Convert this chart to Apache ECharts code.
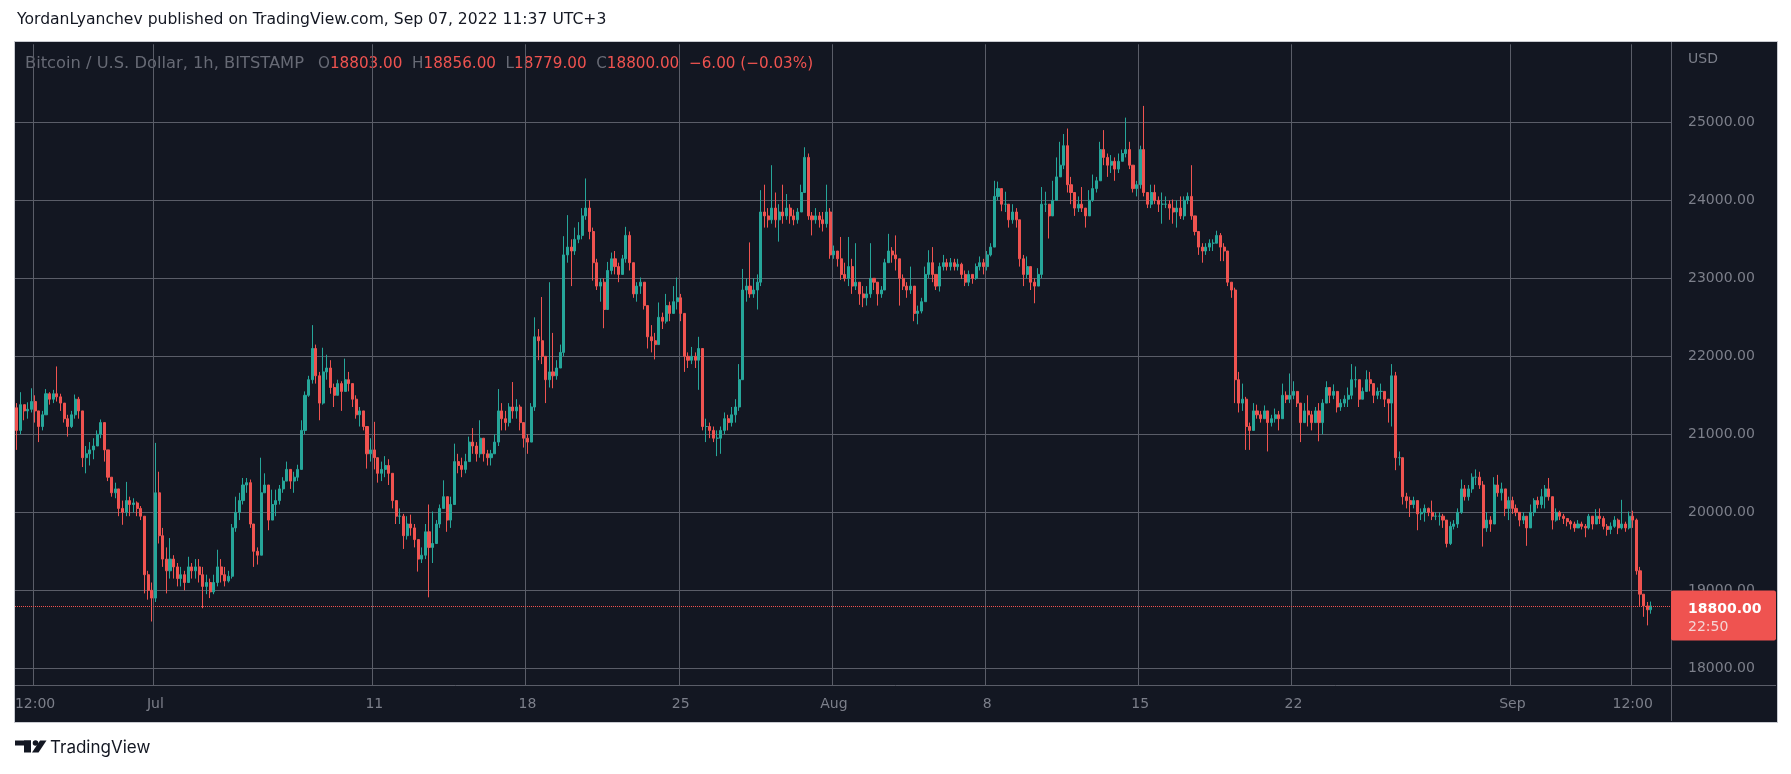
<!DOCTYPE html>
<html>
<head>
<meta charset="utf-8">
<script src="https://cdn.jsdelivr.net/npm/echarts@6/dist/echarts.min.js"></script>
<style>
  html, body { margin: 0; padding: 0; background: #ffffff; }
  #wrap { position: relative; width: 1791px; height: 774px; background: #ffffff; }
  #panel {
    position: absolute; left: 14px; top: 41px; width: 1762px; height: 680px;
    background: #131722; border: 1px solid #c8cad0;
  }
  #chart { position: absolute; left: 0; top: 0; width: 1791px; height: 774px; }
</style>
</head>
<body>
<div id="wrap">
  <div id="panel"></div>
  <div id="chart"></div>
</div>
<script>
const startTime = Date.UTC(2022, 5, 24, 16); // first candle: 24 Jun 16:00
const firstOpen = 21340;
const padCandles = 5; // empty room right of the last candle

const closes = [
  21050, 21380,                              // Jun 24 (16, 20)
  21300, 21320, 21420, 21300, 21100, 21250,  // Jun 25
  21520, 21450, 21520, 21480, 21400, 21200,  // Jun 26
  21100, 21250, 21450, 21300, 20700, 20750,  // Jun 27
  20800, 20850, 21000, 21150, 20800, 20450,  // Jun 28
  20250, 20300, 20050, 20000, 20150, 20100,  // Jun 29
  20120, 20050, 19950, 19200, 19000, 18900,  // Jun 30
  20250, 19700, 19400, 19250, 19400, 19300,  // Jul 1
  19150, 19200, 19100, 19300, 19250, 19300,  // Jul 2
  19200, 19050, 19100, 18980, 19100, 19300,  // Jul 3
  19200, 19120, 19180, 19800, 20000, 20150,  // Jul 4
  20350, 20380, 19850, 19500, 19450, 20250,  // Jul 5
  20350, 19900, 20100, 20150, 20300, 20400,  // Jul 6
  20550, 20400, 20450, 20550, 21050, 21500,  // Jul 7
  21700, 22100, 21750, 21400, 21800, 21850,  // Jul 8
  21600, 21500, 21650, 21550, 21700, 21650,  // Jul 9
  21450, 21250, 21300, 21100, 20750, 20800,  // Jul 10
  20700, 20500, 20550, 20600, 20500, 20150,  // Jul 11
  19950, 19950, 19700, 19850, 19800, 19650,  // Jul 12
  19400, 19450, 19750, 19550, 19600, 19850,  // Jul 13
  20050, 20200, 19900, 20100, 20650, 20600,  // Jul 14
  20550, 20650, 20900, 20850, 20750, 20950,  // Jul 15
  20750, 20700, 20750, 20900, 21300, 21200,  // Jul 16
  21150, 21350, 21300, 21350, 21150, 20950,  // Jul 17
  20900, 21350, 22250, 22200, 22000, 21700,  // Jul 18
  21800, 21750, 21850, 22050, 23300, 23400,  // Jul 19
  23350, 23500, 23550, 23800, 23900, 23600,  // Jul 20
  23200, 22900, 22950, 22600, 23100, 23250,  // Jul 21
  23150, 23050, 23250, 23550, 23200, 22800,  // Jul 22
  22900, 22950, 22650, 22250, 22200, 22150,  // Jul 23
  22500, 22450, 22650, 22550, 22700, 22750,  // Jul 24
  22550, 22000, 21950, 22000, 21950, 22100,  // Jul 25
  21100, 21100, 21050, 20950, 20950, 21050,  // Jul 26
  21200, 21150, 21250, 21350, 21700, 22850,  // Jul 27
  22900, 22800, 22850, 22950, 23850, 23800,  // Jul 28
  23750, 23900, 23750, 23850, 23800, 23900,  // Jul 29
  23800, 23750, 23850, 24100, 24550, 23800,  // Jul 30
  23750, 23800, 23750, 23700, 23850, 23300,  // Jul 31
  23350, 23250, 23050, 23000, 23150, 22900,  // Aug 1
  22950, 22800, 22750, 22800, 23000, 22950,  // Aug 2
  22800, 22850, 23200, 23350, 23300, 23250,  // Aug 3
  23000, 22900, 22850, 22900, 22550, 22580,  // Aug 4
  22700, 23050, 23200, 23050, 22900, 23150,  // Aug 5
  23200, 23150, 23200, 23150, 23180, 23050,  // Aug 6
  22950, 23050, 23000, 23150, 23200, 23150,  // Aug 7
  23300, 23400, 24050, 24150, 23950, 23950,  // Aug 8
  23750, 23850, 23750, 23250, 23050, 23150,  // Aug 9
  22950, 22900, 23050, 23950, 23950, 23800,  // Aug 10
  24000, 24300, 24450, 24700, 24200, 24100,  // Aug 11
  23900, 23950, 23900, 23800, 24000, 24150,  // Aug 12
  24250, 24650, 24550, 24450, 24500, 24400,  // Aug 13
  24500, 24600, 24650, 24450, 24150, 24200,  // Aug 14
  24650, 24100, 23950, 24100, 24000, 23950,  // Aug 15
  23950, 23950, 23900, 23850, 23900, 23800,  // Aug 16
  24000, 24050, 23800, 23600, 23400, 23350,  // Aug 17
  23400, 23450, 23450, 23550, 23400, 23350,  // Aug 18
  22950, 22850, 21700, 21400, 21450, 21100,  // Aug 19
  21050, 21300, 21250, 21200, 21300, 21150,  // Aug 20
  21200, 21250, 21200, 21500, 21450, 21500,  // Aug 21
  21550, 21400, 21150, 21300, 21250, 21150,  // Aug 22
  21300, 21150, 21400, 21600, 21500, 21550,  // Aug 23
  21350, 21400, 21450, 21500, 21700, 21700,  // Aug 24
  21450, 21550, 21700, 21650, 21500, 21550,  // Aug 25
  21550, 21450, 21400, 21750, 20700, 20700,  // Aug 26
  20200, 20150, 20100, 20150, 19980, 20000,  // Aug 27
  20050, 20000, 19950, 19950, 19950, 19900,  // Aug 28
  19600, 19820, 19850, 20000, 20300, 20200,  // Aug 29
  20300, 20450, 20450, 20350, 19800, 19900,  // Aug 30
  19850, 20350, 20250, 20300, 20050, 20150,  // Aug 31
  20050, 20000, 19900, 19950, 19800, 20000,  // Sep 1
  20150, 20100, 20200, 20300, 20200, 19900,  // Sep 2
  20000, 19950, 19920, 19880, 19850, 19800,  // Sep 3
  19850, 19820, 19800, 19950, 19850, 19950,  // Sep 4
  19920, 19820, 19780, 19820, 19900, 19800,  // Sep 5
  19850, 19800, 19950, 19900, 19250, 18950,  // Sep 6
  18800, 18750, 18800                        // Sep 7 (00, 04, 08)
];

const highs = [
  21400, 21540,
  21380, 21410, 21590, 21500, 21300, 21300,
  21580, 21540, 21570, 21870, 21520, 21400,
  21250, 21300, 21510, 21480, 21300, 20850,
  20900, 20950, 21050, 21190, 21150, 20800,
  20450, 20380, 20300, 20150, 20390, 20200,
  20180, 20140, 20080, 19950, 19250, 19100,
  20890, 20520, 19800, 19550, 19670, 19450,
  19350, 19300, 19250, 19430, 19350, 19400,
  19400, 19300, 19200, 19150, 19200, 19520,
  19400, 19300, 19250, 19850, 20200, 20250,
  20440, 20440, 20420, 19850, 19550, 20700,
  20500, 20350, 20290, 20290, 20350, 20450,
  20650, 20550, 20520, 20610, 21180, 21550,
  21750, 22400, 22150, 21800, 22110, 22020,
  21950, 21650, 21700, 21680, 21970, 21800,
  21650, 21500, 21350, 21300, 21100, 20950,
  21160, 20700, 20650, 20720, 20680, 20500,
  20150, 20050, 19980, 19950, 19970, 19850,
  19650, 19550, 19850, 20100, 20010, 19900,
  20100, 20410, 20200, 20200, 20880, 20750,
  20700, 20750, 20970, 21080, 20900, 21180,
  20950, 20800, 20800, 21000, 21580, 21400,
  21300, 21400, 21670, 21450, 21380, 21150,
  21000, 21400, 22500, 22350, 22760, 22000,
  22950, 22300, 21950, 22150, 23540, 23810,
  23500, 23650, 23720, 23900, 24280, 24000,
  23650, 23250, 23000, 23000, 23210, 23330,
  23350, 23200, 23300, 23660, 23600, 23200,
  22950, 23010, 22950, 22650, 22400, 22300,
  22690, 22560, 22800, 22700, 22900, 23010,
  22800, 22550, 22050, 22120, 22050, 22250,
  22100, 21200, 21150, 21100, 21050, 21100,
  21280, 21250, 21350, 21450, 21900, 23120,
  23000, 23460, 23000, 23050, 24130, 24200,
  23900, 24450, 24100, 23950, 24200, 24080,
  23950, 23880, 23900, 24200, 24680, 24600,
  23850, 23900, 23850, 23850, 24200, 23900,
  23420, 23350, 23530, 23200, 23530, 23250,
  23450, 22950, 22900, 22900, 23450, 23000,
  22950, 22900, 23250, 23570, 23400, 23550,
  23250, 23050, 22950, 23150, 22900, 22650,
  22750, 23150, 23360, 23400, 23050, 23200,
  23300, 23250, 23260, 23250, 23250, 23200,
  23100, 23100, 23050, 23190, 23280, 23250,
  23350, 23450, 24250, 24240, 24150, 24110,
  23950, 23950, 23900, 23750, 23300, 23280,
  23150, 23000, 23130, 24170, 24110, 23950,
  24250, 24550, 24750, 24850, 24920, 24300,
  24100, 24050, 24170, 23900, 24130, 24330,
  24300, 24750, 24900, 24600, 24580, 24550,
  24600, 24650, 25060, 24750, 24450, 24250,
  24700, 25210, 24100, 24200, 24200, 24050,
  24100, 24050, 24000, 24010, 24000, 24050,
  24050, 24100, 24450, 23800, 23600, 23450,
  23450, 23500, 23500, 23610, 23580, 23450,
  23350, 22950, 22880, 21800, 21650, 21480,
  21150, 21400, 21380, 21300, 21370, 21300,
  21250, 21330, 21300, 21650, 21550, 21780,
  21680, 21550, 21400, 21400, 21500, 21300,
  21350, 21400, 21450, 21680, 21600, 21640,
  21550, 21450, 21500, 21600, 21900, 21870,
  21700, 21600, 21820, 21800, 21650, 21600,
  21650, 21550, 21450, 21900, 21800, 20780,
  20700, 20250, 20200, 20200, 20150, 20050,
  20100, 20060, 20150, 20000, 20000, 19980,
  19900, 19880, 19900, 20050, 20420, 20350,
  20350, 20500, 20550, 20520, 20400, 20000,
  19950, 20450, 20480, 20380, 20300, 20200,
  20200, 20100, 20000, 20000, 19950, 20100,
  20180, 20200, 20300, 20350, 20440, 20200,
  20050, 20020, 19980, 19920, 19900, 19880,
  19900, 19880, 19850, 19980, 19950, 20040,
  20050, 19950, 19850, 19870, 19950, 19920,
  20160, 19880, 20010, 20020, 19920, 19300,
  18950, 18850, 18856
];

const lows = [
  20800, 21000,
  21180, 21200, 21280, 21150, 20900, 21050,
  21250, 21380, 21400, 21420, 21300, 21150,
  20970, 21080, 21200, 21200, 20580, 20500,
  20600, 20680, 20850, 20950, 20650, 20400,
  20200, 20180, 19950, 19840, 19950, 19950,
  20000, 19950, 19900, 18960, 18880, 18600,
  18850, 19600, 19300, 18960, 19150, 19150,
  19050, 19050, 19000, 19100, 19150, 19150,
  19100, 18770, 18950, 18900, 18950, 19050,
  19100, 19050, 19100, 19150, 19750, 19900,
  20100, 20250, 19800, 19300, 19330, 19450,
  20250, 19770, 19900, 19950, 20100, 20250,
  20400, 20300, 20250, 20400, 20550, 21000,
  21480, 21650, 21650, 21180, 21380, 21700,
  21520, 21350, 21500, 21300, 21550, 21550,
  21350, 21200, 21100, 21050, 20560, 20650,
  20550, 20380, 20400, 20450, 20350, 20050,
  19850, 19850, 19530, 19650, 19700, 19550,
  19240, 19350, 19400, 18910, 19350, 19600,
  19800, 20050, 19750, 19800, 20100, 20500,
  20450, 20500, 20650, 20750, 20650, 20700,
  20650, 20600, 20600, 20750, 20850, 21050,
  21050, 21100, 21200, 21200, 21050, 20830,
  20750, 20900, 21300, 21950, 21900, 21400,
  21600, 21590, 21700, 21850, 22000, 23200,
  22900, 23300, 23450, 23500, 23750, 23500,
  22970, 22850, 22700, 22360, 22600, 23050,
  23050, 22950, 23050, 23200, 23100, 22750,
  22700, 22800, 22600, 22100, 22050, 21960,
  22150, 22350, 22420, 22450, 22550, 22600,
  22450, 21800, 21850, 21900, 21850, 21570,
  21050, 20900, 20950, 20900, 20720, 20750,
  21000, 21050, 21100, 21150, 21300, 21700,
  22700, 22750, 22750, 22600, 22900, 23650,
  23650, 23700, 23650, 23470, 23700, 23750,
  23700, 23680, 23700, 23850, 24100, 23750,
  23550, 23700, 23650, 23600, 23650, 23250,
  23250, 23150, 22980, 22960, 22900, 22800,
  22850, 22660, 22630, 22650, 22750, 22850,
  22650, 22750, 22850, 23200, 23200, 23100,
  22650, 22850, 22750, 22800, 22450, 22410,
  22550, 22700, 23000, 22950, 22850, 22830,
  23100, 23100, 23100, 23100, 23100, 22990,
  22900, 22900, 22930, 22980, 23100, 23050,
  23100, 23280, 23400, 24000, 23860, 23850,
  23650, 23700, 23650, 23150, 22900, 23000,
  22850, 22680, 22900, 23000, 23850, 23510,
  23800, 24000, 24300, 24400, 24100, 23950,
  23800, 23850, 23850, 23650, 23800, 23980,
  24100, 24250, 24450, 24300, 24350, 24250,
  24350, 24500, 24550, 24400, 24100, 24050,
  24150, 24050, 23900, 23900, 23950, 23850,
  23700, 23900, 23750, 23700, 23650, 23760,
  23750, 23950, 23750, 23550, 23300, 23200,
  23300, 23350, 23350, 23450, 23220, 23220,
  22900, 22750, 21400, 21280, 21300, 20800,
  20800, 21050, 21200, 21150, 21200, 20780,
  21100, 21150, 21050, 21200, 21400, 21400,
  21450, 21350, 20900, 21150, 21100, 21050,
  21150, 20910, 21000, 21400, 21400, 21450,
  21280, 21300, 21350, 21350, 21450, 21600,
  21350, 21450, 21550, 21550, 21400, 21450,
  21450, 21350, 21150, 21100, 20540, 20600,
  20100, 20050, 19940, 20050, 19770, 19900,
  19880, 19950, 19900, 19900, 19830, 19800,
  19550, 19580, 19780, 19800, 19980, 20150,
  20150, 20250, 20350, 20300, 19560, 19750,
  19750, 19850, 20200, 20150, 19950, 19900,
  19980, 19950, 19820, 19850, 19570, 19800,
  19950, 20050, 20050, 20050, 20150, 19780,
  19880, 19900, 19850, 19820, 19780, 19750,
  19800, 19780, 19680, 19780, 19780, 19850,
  19850, 19780, 19700, 19720, 19800, 19720,
  19780, 19750, 19780, 19800, 19200, 18800,
  18660, 18550, 18700
];

// time scale labels: category key -> text
const tickKeys = ['06-25 12', '07-01 00', '07-11 00', '07-18 00', '07-25 00', '08-01 00',
  '08-08 00', '08-15 00', '08-22 00', '09-01 00', '09-06 12'];
const tickLabels = ['12:00', 'Jul', '11', '18', '25', 'Aug', '8', '15', '22', 'Sep', '12:00'];

// price scale
const priceMin = 18000;
const priceMax = 26000;
const priceStep = 1000;

// last bar legend / price tag
const lastBar = { o: '18803.00', h: '18856.00', l: '18779.00', c: '18800.00', chg: '−6.00 (−0.03%)' };
const lastClose = 18800;
const countdown = '22:50';

const upColor = '#26a69a';
const downColor = '#ef5350';
const gridColor = '#5a5d68';
const scaleText = '#7c7f8a';
const legendGrey = '#676a75';
const uiFont = '"DejaVu Sans", sans-serif';

function pad(n) {
  return n < 10 ? '0' + n : '' + n;
}

let categories = [];
for (let i = 0; i < closes.length + padCandles; i++) {
  const d = new Date(startTime + i * 4 * 3600 * 1000);
  categories.push(pad(d.getUTCMonth() + 1) + '-' + pad(d.getUTCDate()) + ' ' + pad(d.getUTCHours()));
}

let candles = [];
let open = firstOpen;
closes.forEach((c, i) => {
  candles.push([open, c, lows[i], highs[i]]);
  open = c;
});

const isTick = (idx, val) => tickKeys.indexOf(val) >= 0;

let chart = echarts.init(document.getElementById('chart'), null, { renderer: 'canvas' });

let graphics = [
  {
    type: 'line',
    shape: { x1: 1671.5, y1: 42, x2: 1671.5, y2: 721 },
    style: { stroke: gridColor, lineWidth: 1 }
  },
  {
    type: 'line',
    shape: { x1: 15, y1: 685.5, x2: 1776, y2: 685.5 },
    style: { stroke: gridColor, lineWidth: 1 }
  },
  {
    type: 'text',
    x: 17,
    y: 20,
    style: {
      text: 'YordanLyanchev published on TradingView.com, Sep 07, 2022 11:37 UTC+3',
      fill: '#131722',
      font: '15.6px ' + uiFont,
      verticalAlign: 'middle'
    }
  },
  {
    type: 'text',
    x: 25,
    y: 64,
    style: {
      text: 'Bitcoin / U.S. Dollar, 1h, BITSTAMP',
      fill: legendGrey,
      font: '16.3px ' + uiFont,
      verticalAlign: 'middle'
    }
  },
  {
    type: 'text',
    x: 318,
    y: 64,
    style: {
      text: '{g|O}{r|' + lastBar.o + '}  {g|H}{r|' + lastBar.h + '}  {g|L}{r|' + lastBar.l +
        '}  {g|C}{r|' + lastBar.c + '}  {r|' + lastBar.chg + '}',
      font: '15.2px ' + uiFont,
      fill: legendGrey,
      verticalAlign: 'middle',
      rich: {
        g: { fill: legendGrey, font: '15.2px ' + uiFont },
        r: { fill: downColor, font: '15.2px ' + uiFont }
      }
    }
  },
  {
    type: 'text',
    x: 1688,
    y: 59,
    style: { text: 'USD', fill: scaleText, font: '14px ' + uiFont, verticalAlign: 'middle' }
  },
  // TradingView logo
  { type: 'rect', shape: { x: 15, y: 740.5, width: 16, height: 5 }, style: { fill: '#131722' } },
  { type: 'rect', shape: { x: 24, y: 740.5, width: 7, height: 12 }, style: { fill: '#131722' } },
  { type: 'circle', shape: { cx: 35.5, cy: 743, r: 2.8 }, style: { fill: '#131722' } },
  { type: 'polygon', shape: { points: [[40, 740.5], [46.5, 740.5], [38.5, 752.5], [32, 752.5]] }, style: { fill: '#131722' } },
  {
    type: 'text', x: 50, y: 748,
    style: { text: 'TradingView', fill: '#131722', font: '17px Inter, sans-serif', verticalAlign: 'middle' }
  }
];

let option = {
  backgroundColor: 'transparent',
  animation: false,
  grid: [
    { left: 15, right: 120, top: 44.3, bottom: 105.7 },
    { left: 15, right: 120, top: 668.3, bottom: 89 }
  ],
  xAxis: [
    {
      type: 'category',
      gridIndex: 0,
      data: categories,
      axisLine: { show: false },
      axisTick: { show: false },
      axisLabel: { show: false },
      splitLine: {
        show: true,
        interval: isTick,
        lineStyle: { color: gridColor, width: 1 }
      }
    },
    {
      type: 'category',
      gridIndex: 1,
      data: categories,
      axisLine: { show: false },
      axisTick: { show: false },
      axisLabel: {
        interval: isTick,
        formatter: v => tickLabels[tickKeys.indexOf(v)],
        color: scaleText,
        fontFamily: uiFont,
        fontSize: 14,
        margin: 12
      },
      splitLine: {
        show: true,
        interval: isTick,
        lineStyle: { color: gridColor, width: 1 }
      }
    }
  ],
  yAxis: [
    {
      type: 'value',
      gridIndex: 0,
      position: 'right',
      min: priceMin,
      max: priceMax,
      interval: priceStep,
      axisLine: { show: false },
      axisTick: { show: false },
      axisLabel: {
        color: scaleText,
        fontFamily: uiFont,
        fontSize: 14,
        margin: 17,
        showMaxLabel: false,
        formatter: v => v.toFixed(2)
      },
      splitLine: {
        show: true,
        showMaxLine: false,
        lineStyle: { color: gridColor, width: 1 }
      }
    },
    { type: 'value', gridIndex: 1, show: false }
  ],
  series: [
    {
      name: 'BTCUSD',
      type: 'candlestick',
      xAxisIndex: 0,
      yAxisIndex: 0,
      data: candles,
      barWidth: '70%',
      itemStyle: {
        color: upColor,
        color0: downColor,
        borderColor: upColor,
        borderColor0: downColor,
        borderWidth: 1
      },
      markLine: {
        silent: true,
        symbol: 'none',
        label: { show: false },
        lineStyle: { color: downColor, type: 'dotted', width: 1 },
        data: [{ yAxis: lastClose }]
      }
    }
  ],
  graphic: graphics
};

chart.setOption(option);

// price tag on the scale, anchored to the last close
const py = chart.convertToPixel({ yAxisIndex: 0 }, lastClose);
graphics.push(
  {
    type: 'rect', z: 100,
    shape: { x: 1671, y: py - 15.3, width: 105, height: 50, r: 2 },
    style: { fill: downColor }
  },
  {
    type: 'text', z: 101, x: 1688, y: py + 3,
    style: { text: lastClose.toFixed(2), fill: '#ffffff', font: 'bold 14px ' + uiFont, verticalAlign: 'middle' }
  },
  {
    type: 'text', z: 101, x: 1688, y: py + 21,
    style: { text: countdown, fill: '#f4d4d3', font: '14px ' + uiFont, verticalAlign: 'middle' }
  }
);
chart.setOption(option, true);
</script>
</body>
</html>
